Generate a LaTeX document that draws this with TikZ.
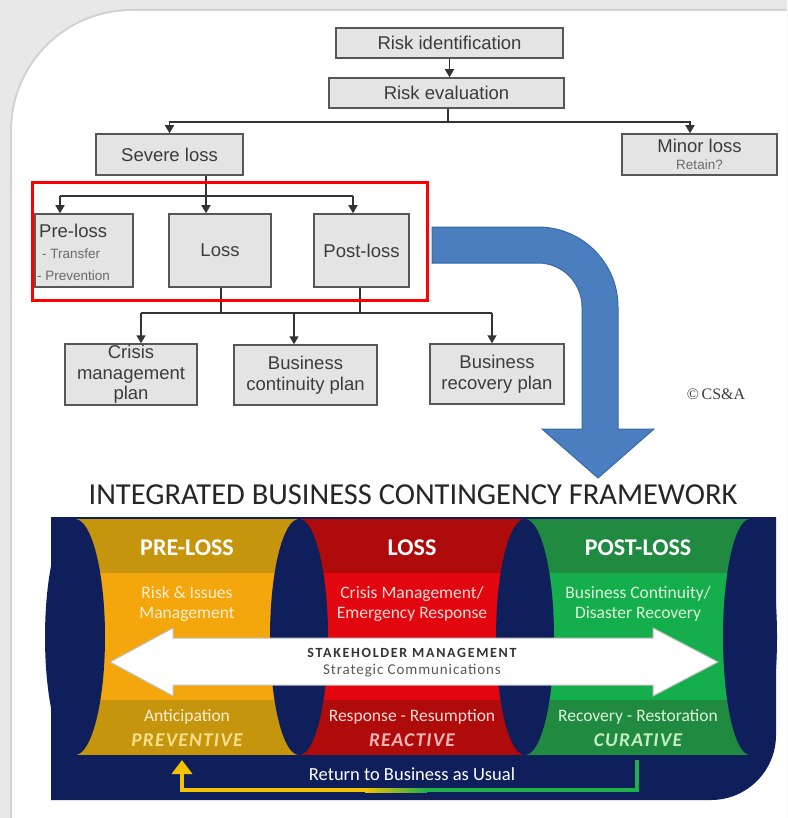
\documentclass[tikz,border=0pt]{standalone}
\usepackage{fontspec}
\setmainfont{Liberation Sans}
\newfontfamily\cfont{Carlito}
\newfontfamily\cfontsp{Carlito}[LetterSpace=6]
\newfontfamily\cfontwide{Carlito}[LetterSpace=12]
\newfontfamily\tfont{Liberation Serif}
\usetikzlibrary{arrows.meta}

\definecolor{boxfill}{HTML}{E4E4E4}
\definecolor{boxdraw}{HTML}{575757}
\definecolor{txt}{HTML}{3C3C3C}
\definecolor{txtlight}{HTML}{6A6A6A}
\definecolor{navy}{HTML}{0F1F5C}
\definecolor{goldD}{HTML}{C6950E}
\definecolor{goldL}{HTML}{F3A70C}
\definecolor{redD}{HTML}{B00B0B}
\definecolor{redL}{HTML}{E2060F}
\definecolor{grnD}{HTML}{1F8A40}
\definecolor{grnL}{HTML}{14AE4C}
\definecolor{bluearr}{HTML}{4A7EBF}
\definecolor{bluedge}{HTML}{3A6AA6}
\definecolor{framebg}{HTML}{E8E8E8}
\definecolor{preT}{HTML}{FDEED2}
\definecolor{redT}{HTML}{FADCD8}
\definecolor{grnT}{HTML}{DDF5DD}
\definecolor{preK}{HTML}{F7DF8A}
\definecolor{redK}{HTML}{F5B5B5}
\definecolor{grnK}{HTML}{C6EFC0}
\definecolor{loopY}{HTML}{F5C200}
\definecolor{loopG}{HTML}{1FB04A}

\tikzset{
  box/.style={draw=boxdraw, fill=boxfill, line width=1.5pt, inner sep=0pt,
    align=center, text=txt, font=\fontsize{18.5}{20.5}\selectfont},
  lbl/.style={inner sep=0pt, text=txt, font=\fontsize{18.5}{20.5}\selectfont},
  small/.style={inner sep=0pt, text=txtlight, font=\fontsize{13.5}{15}\selectfont},
  conn/.style={draw=black!80, line width=1.5pt},
  arr/.style={conn, -{Triangle[width=9pt,length=8pt]}},
  redframe/.style={draw=red, line width=3pt, inner sep=0pt},
  head/.style={inner sep=0pt, text=white, font=\cfont\bfseries\fontsize{24}{26}\selectfont},
  mid/.style={inner sep=0pt, align=center, font=\cfont\fontsize{17.5}{20}\selectfont},
  low/.style={inner sep=0pt, font=\cfont\fontsize{17.5}{19}\selectfont},
  kind/.style={inner sep=0pt, font=\cfontsp\bfseries\itshape\fontsize{19.5}{21}\selectfont}
}

\begin{document}
\begin{tikzpicture}[x=1pt,y=-1pt]
\useasboundingbox (0,0) rectangle (787,818);

% page background and card
\fill[framebg] (0,0) rectangle (787,818);
\fill[black!18] (10,818) -- (10,131) arc (180:90:122pt) -- (787,9) -- (787,818) -- cycle;
\fill[white] (12,818) -- (12,131) arc (180:90:120pt) -- (787,11) -- (787,818) -- cycle;

% ---------- decision tree ----------
\node[box, minimum width=227, minimum height=30] (rid) at (449.5,43) {Risk identification};
\node[box, minimum width=235, minimum height=30] (rev) at (446.5,93) {Risk evaluation};
\node[box, minimum width=147, minimum height=41] (sev) at (169.5,154.5) {Severe loss};
\node[box, minimum width=155, minimum height=41] (minor) at (699.5,154.5)
  {Minor loss\\[-3pt]{\color{txtlight}\fontsize{13.5}{15}\selectfont Retain?}};

\node[box, minimum width=98, minimum height=73] (pre) at (84,250.5) {};
\node[lbl, anchor=west] (preH) at (39,231) {Pre-loss};
\node[small, anchor=west] (preA) at (42,254) {- Transfer};
\node[small, anchor=west] (preB) at (37,276) {- Prevention};
\node[box, minimum width=102, minimum height=73] (loss) at (220,250.5) {Loss};
\node[box, minimum width=95, minimum height=73] (post) at (361.5,250.5) {Post-loss};

\node[box, minimum width=132, minimum height=61] (cmp) at (131,374.5) {Crisis\\management\\plan};
\node[box, minimum width=143, minimum height=60] (bcp) at (305.5,375) {Business\\continuity plan};
\node[box, minimum width=134, minimum height=60] (brp) at (497,374) {Business\\recovery plan};

\node[inner sep=0pt, text=txt, font=\tfont\fontsize{16}{18}\selectfont] (copy) at (716,394) {\textcopyright\,CS\&A};

% connectors
\coordinate (e1) at (448,122);
\coordinate (m1) at (690,122);
\draw[arr] (rid.south) -- (rid.south |- rev.north);
\draw[conn] (rev.south -| e1) -- (e1);
\draw[arr] (e1) -| (sev.north);
\draw[arr] (e1) -- (m1) -- (m1 |- minor.north);

\coordinate (s0) at (60,196);
\coordinate (s1) at (206,196);
\coordinate (s2) at (353,196);
\draw[conn] (s1 |- sev.south) -- (s1);
\draw[conn] (s0) -- (s2);
\draw[arr] (s0) -- (s0 |- pre.north);
\draw[arr] (s1) -- (s1 |- loss.north);
\draw[arr] (s2) -- (s2 |- post.north);

\coordinate (l1) at (221,313);
\coordinate (p1) at (360,313);
\coordinate (c0) at (141,313);
\coordinate (c1) at (294,313);
\coordinate (c2) at (492,313);
\draw[conn] (l1 |- loss.south) -- (l1);
\draw[conn] (p1 |- post.south) -- (p1);
\draw[conn] (c0) -- (c2);
\draw[arr] (c0) -- (c0 |- cmp.north);
\draw[arr] (c1) -- (c1 |- bcp.north);
\draw[arr] (c2) -- (c2 |- brp.north);

% group frame around the three loss phases
\node[redframe, minimum width=395, minimum height=117] (grp) at (229.5,241.5) {};

% bent block arrow down to the framework
\filldraw[fill=bluearr, draw=bluedge, line width=1pt]
  (432,227) -- (538,227) arc (90:0:80pt) -- (618,429) -- (654,429) -- (598,478)
  -- (542,429) -- (582,429) -- (582,307) arc (0:90:44pt) -- (432,263) -- cycle;

% ---------- framework ----------
\node[inner sep=0pt, text=black!85, font=\cfont\fontsize{30.5}{32}\selectfont] (title)
  at (413,495) {INTEGRATED BUSINESS CONTINGENCY FRAMEWORK};

\fill[navy] (51,517) -- (776,517) -- (776,735) arc (0:-90:65pt) -- (51,800) -- cycle;

% phase columns: top band, middle band, bottom band
\fill[goldD] (75,519) rectangle (299,573);
\fill[goldL] (75,573) rectangle (299,700);
\fill[goldD] (75,700) rectangle (299,755);
\fill[redD] (299,519) rectangle (525,573);
\fill[redL] (299,573) rectangle (525,700);
\fill[redD] (299,700) rectangle (525,755);
\fill[grnD] (525,519) rectangle (750,573);
\fill[grnL] (525,573) rectangle (750,700);
\fill[grnD] (525,700) rectangle (750,755);

% navy separators
\fill[navy] (75,637) ellipse [x radius=30pt, y radius=118pt];
\fill[navy] (299,637) ellipse [x radius=29pt, y radius=118pt];
\fill[navy] (525,637) ellipse [x radius=29pt, y radius=118pt];
\fill[navy] (750,637) ellipse [x radius=27pt, y radius=118pt];

\node[head] (h1) at (187,548) {PRE-LOSS};
\node[head] (h2) at (412,548) {LOSS};
\node[head] (h3) at (638,548) {POST-LOSS};

\node[mid, text=preT] (t1) at (187,604) {Risk \& Issues\\Management};
\node[mid, text=redT] (t2) at (412,604) {Crisis Management/\\Emergency Response};
\node[mid, text=grnT] (t3) at (638,604) {Business Continuity/\\Disaster Recovery};

% stakeholder double arrow
\filldraw[fill=white, draw=black!25, line width=1pt]
  (110,662) -- (173,628) -- (173,638) -- (653,638) -- (653,628) -- (718,662)
  -- (653,696) -- (653,685) -- (173,685) -- (173,696) -- cycle;
\node[inner sep=0pt, text=black!80, font=\cfontwide\bfseries\fontsize{14}{16}\selectfont] (sk1) at (412,653) {STAKEHOLDER MANAGEMENT};
\node[inner sep=0pt, text=black!65, font=\cfontsp\fontsize{15}{16}\selectfont] (sk2) at (412,671) {Strategic Communications};

\node[low, text=preT] (b1) at (187,717) {Anticipation};
\node[low, text=redT] (b2) at (412,717) {Response - Resumption};
\node[low, text=grnT] (b3) at (638,717) {Recovery - Restoration};
\node[kind, text=preK] (k1) at (187,740) {PREVENTIVE};
\node[kind, text=redK] (k2) at (412,740) {REACTIVE};
\node[kind, text=grnK] (k3) at (638,740) {CURATIVE};

% return loop
\coordinate (rt) at (637,760);
\coordinate (rc1) at (637,790);
\coordinate (rc2) at (182,790);
\coordinate (rh) at (182,760);
\draw[loopG, line width=4pt] (rt) -- (rc1) -- (425,790);
\shade[left color=loopY, right color=loopG] (365,788) rectangle (427,792);
\draw[loopY, line width=4pt, -{Triangle[width=20pt,length=14pt]}] (367,790) -- (rc2) -- (rh);
\node[inner sep=0pt, text=white, font=\cfont\fontsize{18.5}{20}\selectfont] (rtb) at (412,774) {Return to Business as Usual};
\end{tikzpicture}
\end{document}
